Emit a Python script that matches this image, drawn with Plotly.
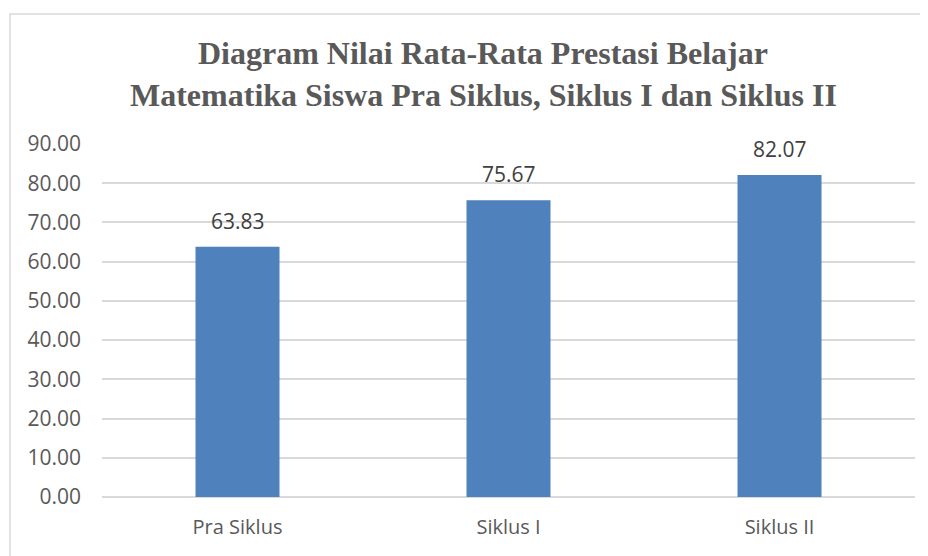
import plotly.graph_objects as go

categories = ["Pra Siklus", "Siklus I", "Siklus II"]
values = [63.83, 75.67, 82.07]
tick_vals = [0, 10, 20, 30, 40, 50, 60, 70, 80, 90]
title_lines = ["Diagram Nilai Rata-Rata Prestasi Belajar",
               "Matematika Siswa Pra Siklus, Siklus I dan Siklus II"]

OFF = 8  # page body margin
W, H = 928 - OFF, 556 - OFF
L, R, T, B = 102 - OFF, 13, 144 - OFF, 59
pw, ph = W - L - R, H - T - B

def px_x(p):
    return (p - OFF - L) / pw

def px_y(p):
    return (H - B - (p - OFF)) / ph

fig = go.Figure()
fig.add_trace(go.Bar(
    x=categories, y=values,
    marker=dict(color="#4F81BD", line=dict(width=0)),
    width=0.31,
))

for c, v in zip(categories, values):
    fig.add_annotation(x=c, y=v, text=f"{v:.2f}", showarrow=False,
                       xanchor="center", yanchor="middle", yshift=26,
                       font=dict(family="Open Sans", size=21, color="#404040"))

fig.update_layout(
    width=W, height=H,
    margin=dict(l=L, r=R, t=T, b=B),
    paper_bgcolor="white", plot_bgcolor="white",
    showlegend=False,
    xaxis=dict(showgrid=False, showline=False, ticks="",
               tickfont=dict(family="Open Sans", size=20, color="#595959"),
               ticklabelstandoff=16),
    yaxis=dict(range=[0, 90], tickvals=tick_vals,
               ticktext=[f"{v:.2f}" for v in tick_vals],
               showgrid=True, gridcolor="#d9d9d9", gridwidth=1.5,
               zeroline=True, zerolinecolor="#d9d9d9", zerolinewidth=1.5,
               showline=False, ticks="",
               tickfont=dict(family="Open Sans", size=21, color="#595959"),
               ticklabelstandoff=20),
    shapes=[dict(type="rect", xref="paper", yref="paper",
                 x0=px_x(10), x1=px_x(940), y0=px_y(570), y1=px_y(14),
                 line=dict(color="#d9d9d9", width=1.5), fillcolor="rgba(0,0,0,0)",
                 layer="below")],
)

for txt, yp in zip(title_lines, [53, 95]):
    fig.add_annotation(text=f"<b>{txt}</b>", xref="paper", yref="paper",
                       x=px_x(483), y=px_y(yp), xanchor="center", yanchor="middle",
                       showarrow=False,
                       font=dict(family="Liberation Serif", size=32, color="#595959"))

fig.write_html("out.html")
